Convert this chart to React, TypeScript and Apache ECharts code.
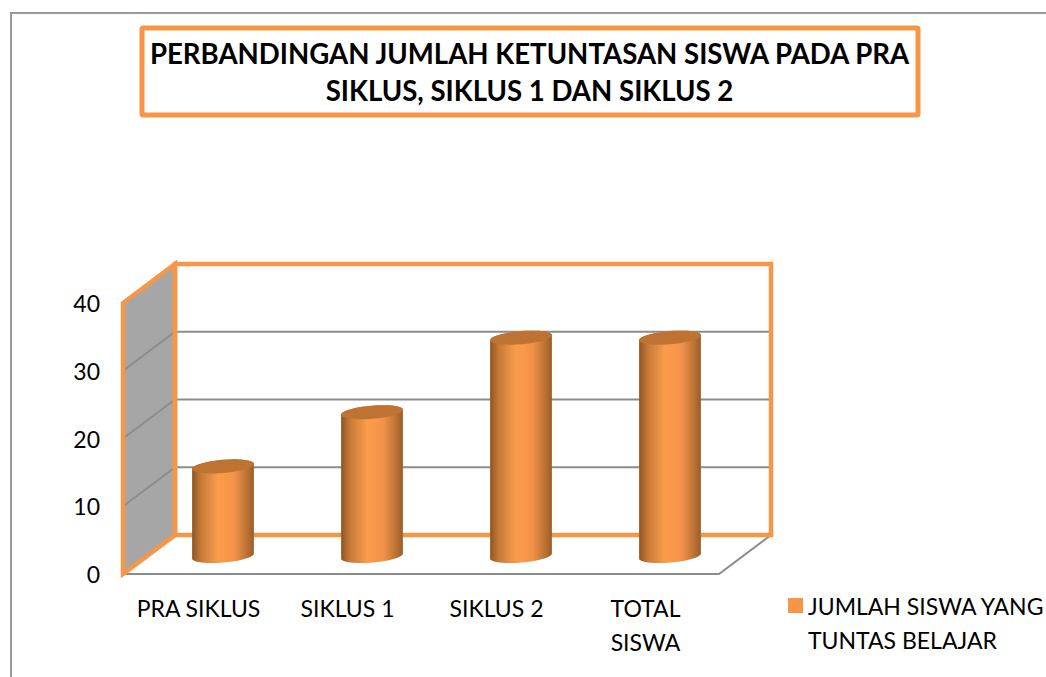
import React, { useEffect, useRef } from "react";
import * as echarts from "echarts";

const categories = ["PRA SIKLUS", "SIKLUS 1", "SIKLUS 2", "TOTAL\nSISWA"];
const tuntasValues = [13, 21, 32, 32];
const yTicks = [0, 10, 20, 30, 40];
const seriesName = "JUMLAH SISWA YANG\nTUNTAS BELAJAR";
const titleText = "PERBANDINGAN JUMLAH KETUNTASAN SISWA PADA PRA\nSIKLUS, SIKLUS 1 DAN SIKLUS 2";

const FONT = "Lato";
const ORANGE = "#F79646";
const GRID = "#8C8C8C";
const DX = 52;
const DY = -39;

function ellipseArc(cx: number, cy: number, rx: number, ry: number, tilt: number, from: number, to: number) {
  const pts: number[][] = [];
  const n = 40;
  for (let i = 0; i <= n; i++) {
    const t = from + ((to - from) * i) / n;
    const x = rx * Math.cos(t);
    const y = ry * Math.sin(t);
    pts.push([cx + x * Math.cos(tilt) - y * Math.sin(tilt), cy + x * Math.sin(tilt) + y * Math.cos(tilt)]);
  }
  return pts;
}

export default function App() {
  const ref = useRef<HTMLDivElement>(null);
  useEffect(() => {
    const chart = echarts.init(ref.current!, null, { renderer: "svg" });
    const bodyFill = new echarts.graphic.LinearGradient(0, 0, 1, 0, [
      { offset: 0, color: "#8F5522" },
      { offset: 0.14, color: "#C67A38" },
      { offset: 0.42, color: "#FA9C4B" },
      { offset: 0.68, color: "#F3934A" },
      { offset: 0.88, color: "#BD7434" },
      { offset: 1, color: "#9A5D2A" },
    ]);
    chart.setOption({
      animation: false,
      backgroundColor: "#FFFFFF",
      title: {
        text: titleText,
        left: 524.5,
        top: 30,
        textAlign: "center",
        textStyle: { fontFamily: FONT, fontSize: 27.6, fontWeight: "bold", color: "#000", lineHeight: 37, align: "center" },
      },
      graphic: [
        { type: "polyline", silent: true, shape: { points: [[11, 677], [11, 13], [1046, 13]] }, style: { stroke: "#9A9A9A", lineWidth: 2, fill: "none" } },
        { type: "rect", silent: true, shape: { x: 142, y: 28, width: 776, height: 87, r: 1 }, style: { stroke: ORANGE, lineWidth: 5, fill: "none" } },
      ],
      legend: {
        left: 788,
        top: 588.5,
        data: [seriesName],
        icon: "path://M0,0H15V15H0Z M0,49H0.01V49.01H0Z",
        itemWidth: 15,
        itemHeight: 49,
        itemGap: 0,
        padding: 0,
        selectedMode: false,
        textStyle: { fontFamily: FONT, fontSize: 23, color: "#000", lineHeight: 34 },
      },
      grid: { left: 123, right: 327, top: 303, bottom: 103 },
      xAxis: {
        type: "category",
        data: categories,
        axisLine: { show: false },
        axisTick: { show: false },
        splitLine: { show: false },
        axisLabel: { fontFamily: FONT, fontSize: 23, color: "#000", lineHeight: 34, margin: 17, interval: 0, padding: [0, 0, 0, 2] },
      },
      yAxis: {
        type: "value",
        min: 0,
        max: 40,
        interval: 10,
        axisLine: { show: false },
        axisTick: { show: false },
        splitLine: { show: false },
        axisLabel: { fontFamily: FONT, fontSize: 23, color: "#000", margin: 23 },
      },
      series: [
        {
          type: "custom",
          name: "frame",
          silent: true,
          z: 1,
          data: [yTicks[yTicks.length - 1]],
          encode: { x: -1, y: 0 },
          renderItem: (_p: any, api: any) => {
            const w = api.size([1, 0])[0];
            const L = api.coord([0, 0])[0] - w / 2;
            const R = api.coord([categories.length - 1, 0])[0] + w / 2;
            const y0 = api.coord([0, yTicks[0]])[1];
            const yMax = api.coord([0, yTicks[yTicks.length - 1]])[1];
            const children: any[] = [
              {
                type: "polygon",
                shape: { points: [[L, y0], [L + DX, y0 + DY], [L + DX, yMax + DY], [L, yMax]] },
                style: { fill: "#A6A6A6", stroke: "none" },
              },
            ];
            yTicks.slice(1, -1).forEach((v) => {
              const y = api.coord([0, v])[1];
              children.push({
                type: "polyline",
                shape: { points: [[L, y], [L + DX, y + DY], [R + DX, y + DY]] },
                style: { fill: "none", stroke: GRID, lineWidth: 2 },
              });
            });
            children.push(
              {
                type: "polyline",
                shape: { points: [[L, y0], [R, y0], [R + DX, y0 + DY]] },
                style: { fill: "none", stroke: GRID, lineWidth: 2 },
              },
              {
                type: "polygon",
                shape: { points: [[L + DX, y0 + DY], [R + DX, y0 + DY], [R + DX, yMax + DY], [L + DX, yMax + DY]] },
                style: { fill: "none", stroke: ORANGE, lineWidth: 4.5 },
              },
              {
                type: "polygon",
                shape: { points: [[L, y0], [L + DX, y0 + DY], [L + DX, yMax + DY], [L, yMax]] },
                style: { fill: "none", stroke: ORANGE, lineWidth: 4.5 },
              },
            );
            return { type: "group", children };
          },
        },
        {
          type: "custom",
          name: seriesName,
          z: 2,
          itemStyle: { color: ORANGE },
          data: tuntasValues.map((v, i) => [i, v]),
          encode: { x: 0, y: 1 },
          renderItem: (_p: any, api: any) => {
            const i = api.value(0);
            const top = api.coord([i, api.value(1)]);
            const base = api.coord([i, 0]);
            const cx = top[0] + DX / 2 - 0.5;
            const ty = top[1] + DY / 2;
            const by = base[1] + DY / 2 + 1.5;
            const rx = 31;
            const ry = 6.6;
            const tilt = -0.085;
            const lower = ellipseArc(cx, by, rx, ry, tilt, 0, Math.PI);
            const a = ellipseArc(cx, ty, rx, ry, tilt, Math.PI, Math.PI * 2);
            return {
              type: "group",
              children: [
                { type: "polygon", shape: { points: lower.concat(a) }, style: { fill: bodyFill, stroke: "none" } },
                {
                  type: "polygon",
                  shape: { points: ellipseArc(cx, ty, rx, ry, tilt, 0, Math.PI * 2) },
                  style: { fill: "#BE7333", stroke: "none" },
                },
              ],
            };
          },
        },
      ],
    });
    return () => chart.dispose();
  }, []);
  return <div ref={ref} style={{ position: "absolute", left: 0, top: 0, width: 1046, height: 677 }} />;
}
